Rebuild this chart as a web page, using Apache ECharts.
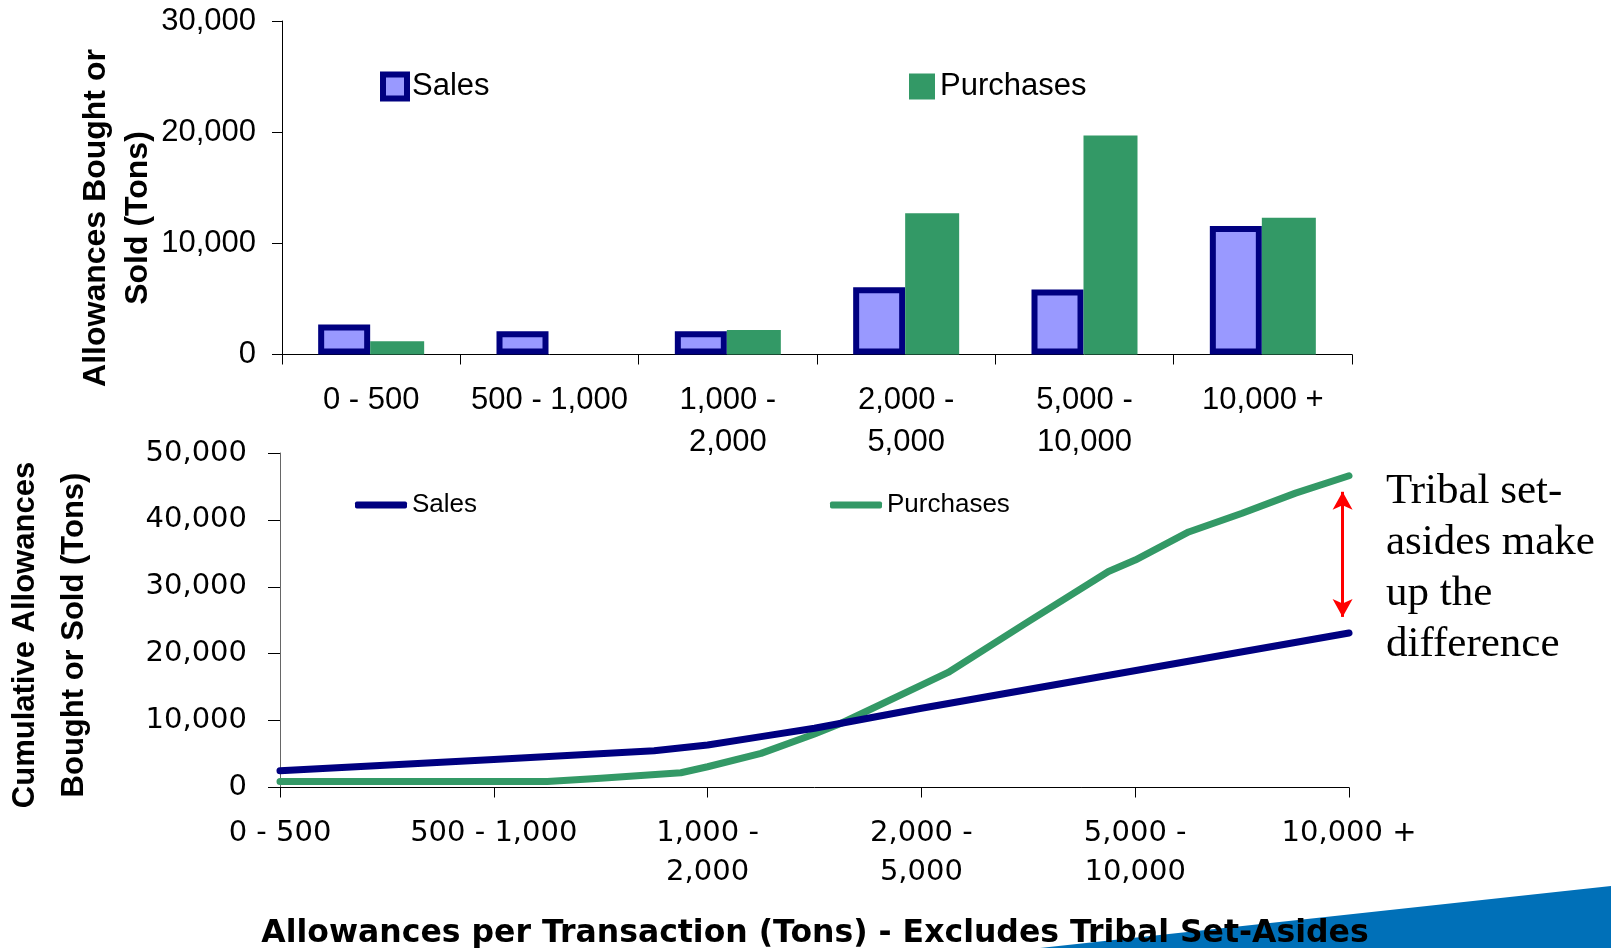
<!DOCTYPE html>
<html>
<head>
<meta charset="utf-8">
<script src="https://cdn.jsdelivr.net/npm/echarts@6/dist/echarts.min.js"></script>
<style>
  html, body { margin: 0; padding: 0; background: #ffffff; }
  #chart { width: 1611px; height: 948px; }
</style>
</head>
<body>
<div id="chart"></div>
<script>
// ---- Data ----
const categories = ['0 - 500', '500 - 1,000', '1,000 - 2,000', '2,000 - 5,000', '5,000 - 10,000', '10,000 +'];
const barSales = [2700, 2100, 2100, 6050, 5850, 11550];
const barPurchases = [1200, 0, 2200, 12700, 19700, 12300];

// cumulative curves (x in category units along the lower axis)
const salesX = [0, 1, 1.75, 2, 2.25, 2.5, 3, 5];
const salesCum = [2500, 4200, 5500, 6350, 7600, 8850, 11850, 23100];
const purchasesX = [0, 1.25, 1.5, 1.875, 2, 2.25, 2.5, 2.625, 3, 3.125, 3.5, 3.875, 4, 4.25, 4.5, 4.75, 5];
const purchasesCum = [900, 900, 1400, 2200, 3100, 5100, 8000, 9600, 15300, 17200, 24800, 32300, 34000, 38200, 41000, 44000, 46600];

const arrowX = 4.97;
const arrowSpan = [44200, 25500];

const topYTicks = { min: 0, max: 30000, step: 10000 };
const bottomYTicks = { min: 0, max: 50000, step: 10000 };

// ---- Styles ----
const NAVY = '#000080';
const LAVENDER = '#9999FF';
const GREEN = '#339966';
const SANS = '"Liberation Sans", Arial, sans-serif';
const WIDE = '"DejaVu Sans", Verdana, sans-serif';

const fmt = v => Number(v).toLocaleString('en-US');
const zip = (xs, ys) => xs.map((x, i) => [x, ys[i]]);
// break long range labels after the dash, e.g. "1,000 -" / "2,000"
const wrapLabel = s => String(s).replace(/^(\d{1,2},\d{3}) - /, '$1 -\n');

const chart = echarts.init(document.getElementById('chart'), null, { renderer: 'canvas' });

const option = {
  backgroundColor: '#ffffff',
  animation: false,
  grid: [
    { left: 282, top: 21, width: 1070, height: 333.5, containLabel: false },
    { left: 280, top: 453, width: 1069, height: 334.5, containLabel: false }
  ],
  legend: [
    {
      data: [{ name: 'Sales', itemStyle: { borderWidth: 6, borderColor: NAVY, color: LAVENDER } }],
      left: 375, top: 66, icon: 'rect', itemWidth: 24, itemHeight: 24,
      textStyle: { fontFamily: SANS, fontSize: 31, color: '#000', lineHeight: 26 },
      selectedMode: false
    },
    {
      data: [{ name: 'Purchases', itemStyle: { borderWidth: 0, color: GREEN } }],
      left: 904, top: 66, icon: 'rect', itemWidth: 26, itemHeight: 26,
      textStyle: { fontFamily: SANS, fontSize: 31, color: '#000', lineHeight: 26 },
      selectedMode: false
    },
    {
      data: [{ name: 'Cumulative Sales' }],
      left: 350, top: 487, icon: 'roundRect', itemWidth: 52, itemHeight: 7,
      formatter: () => 'Sales',
      textStyle: { fontFamily: SANS, fontSize: 26, color: '#000', lineHeight: 26 },
      selectedMode: false
    },
    {
      data: [{ name: 'Cumulative Purchases' }],
      left: 825, top: 487, icon: 'roundRect', itemWidth: 52, itemHeight: 7,
      formatter: () => 'Purchases',
      textStyle: { fontFamily: SANS, fontSize: 26, color: '#000', lineHeight: 26 },
      selectedMode: false
    }
  ],
  xAxis: [
    {
      type: 'category', gridIndex: 0, data: categories,
      axisLine: { lineStyle: { color: '#000', width: 1 } },
      axisTick: { show: true, length: 10, lineStyle: { color: '#000' } },
      axisLabel: {
        interval: 0, margin: 25, color: '#000', fontFamily: SANS, fontSize: 31,
        lineHeight: 42, formatter: wrapLabel
      },
      splitLine: { show: false }
    },
    {
      type: 'value', gridIndex: 1, min: 0, max: 5, interval: 1,
      axisLine: { onZero: false, lineStyle: { color: '#000', width: 1 } },
      axisTick: { show: true, length: 10, lineStyle: { color: '#000' } },
      axisLabel: {
        margin: 26, color: '#000', fontFamily: WIDE, fontSize: 29,
        lineHeight: 39,
        formatter: v => wrapLabel(categories[Math.round(v)]),
        showMinLabel: true, showMaxLabel: true
      },
      splitLine: { show: false }
    }
  ],
  yAxis: [
    {
      type: 'value', gridIndex: 0, min: topYTicks.min, max: topYTicks.max, interval: topYTicks.step,
      axisLine: { show: true, lineStyle: { color: '#000', width: 1 } },
      axisTick: { show: true, length: 10, lineStyle: { color: '#000' } },
      axisLabel: { margin: 26, color: '#000', fontFamily: SANS, fontSize: 31, formatter: fmt },
      splitLine: { show: false }
    },
    {
      type: 'value', gridIndex: 1, min: bottomYTicks.min, max: bottomYTicks.max, interval: bottomYTicks.step,
      axisLine: { show: true, lineStyle: { color: '#666', width: 1 } },
      axisTick: { show: true, length: 12, lineStyle: { color: '#000' } },
      axisLabel: { margin: 33, color: '#000', fontFamily: WIDE, fontSize: 29, formatter: fmt },
      splitLine: { show: false }
    }
  ],
  series: [
    {
      name: 'Sales', type: 'bar', xAxisIndex: 0, yAxisIndex: 0, data: barSales,
      barWidth: 52, barGap: '0%',
      itemStyle: { color: LAVENDER, borderColor: NAVY, borderWidth: 6 },
      emphasis: { disabled: true }, z: 2
    },
    {
      name: 'Purchases', type: 'bar', xAxisIndex: 0, yAxisIndex: 0, data: barPurchases,
      barWidth: 54, barGap: '0%',
      itemStyle: { color: GREEN, borderWidth: 0 },
      emphasis: { disabled: true }, z: 3
    },
    {
      name: 'Cumulative Sales', type: 'line', xAxisIndex: 1, yAxisIndex: 1,
      data: zip(salesX, salesCum), symbol: 'none', color: NAVY,
      lineStyle: { color: NAVY, width: 7, cap: 'round', join: 'round' },
      emphasis: { disabled: true }, z: 3,
      markLine: {
        silent: true, symbol: ['arrow', 'arrow'], symbolSize: [15, 18],
        label: { show: false },
        lineStyle: { color: '#FF0000', width: 3, type: 'solid' },
        data: [[{ coord: [arrowX, arrowSpan[0]] }, { coord: [arrowX, arrowSpan[1]] }]]
      }
    },
    {
      name: 'Cumulative Purchases', type: 'line', xAxisIndex: 1, yAxisIndex: 1,
      data: zip(purchasesX, purchasesCum), symbol: 'none', color: GREEN,
      lineStyle: { color: GREEN, width: 7, cap: 'round', join: 'round' },
      emphasis: { disabled: true }, z: 2
    }
  ],
  graphic: [
    {
      type: 'polygon', z: -10, silent: true,
      shape: { points: [[1040, 948], [1611, 886], [1611, 948]] },
      style: { fill: '#0070B8' }
    },
    {
      type: 'text', x: 117, y: 218, rotation: Math.PI / 2, z: 10,
      style: {
        text: 'Allowances Bought or\nSold (Tons)', fill: '#000',
        fontFamily: SANS, fontWeight: 'bold', fontSize: 32, lineHeight: 42,
        align: 'center', verticalAlign: 'middle', textAlign: 'center', textVerticalAlign: 'middle'
      }
    },
    {
      type: 'text', x: 50, y: 635, rotation: Math.PI / 2, z: 10,
      style: {
        text: 'Cumulative Allowances\nBought or Sold (Tons)', fill: '#000',
        fontFamily: SANS, fontWeight: 'bold', fontSize: 31, lineHeight: 49,
        align: 'center', verticalAlign: 'middle', textAlign: 'center', textVerticalAlign: 'middle'
      }
    },
    {
      type: 'text', x: 815, y: 934, z: 10,
      style: {
        text: 'Allowances per Transaction (Tons) - Excludes Tribal Set-Asides', fill: '#000',
        fontFamily: WIDE, fontWeight: 'bold', fontSize: 31.5,
        align: 'center', verticalAlign: 'middle', textAlign: 'center', textVerticalAlign: 'middle'
      }
    },
    {
      type: 'text', x: 1386, y: 568, z: 10,
      style: {
        text: 'Tribal set-\nasides make\nup the\ndifference', fill: '#000',
        fontFamily: '"Liberation Serif", "Times New Roman", serif', fontSize: 43, lineHeight: 51,
        align: 'left', verticalAlign: 'middle', textAlign: 'left', textVerticalAlign: 'middle'
      }
    }
  ]
};

chart.setOption(option);
</script>
</body>
</html>
